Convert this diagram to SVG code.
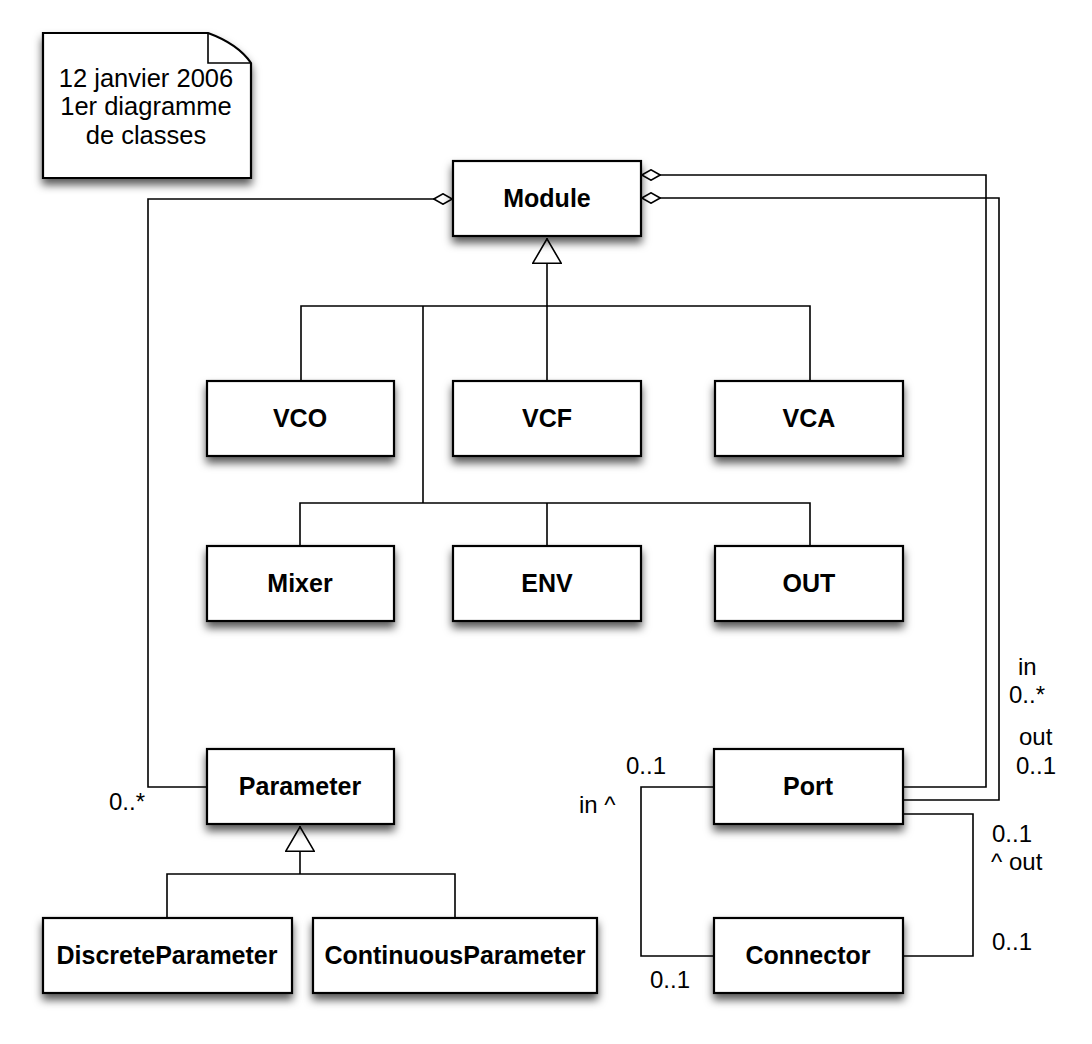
<svg xmlns="http://www.w3.org/2000/svg" width="1092" height="1044" viewBox="0 0 1092 1044">
<defs>
  <filter id="shadow" x="-20%" y="-20%" width="140%" height="160%">
    <feDropShadow dx="0" dy="6" stdDeviation="4" flood-color="#000" flood-opacity="0.65"/>
  </filter>
  <marker id="diamond" viewBox="0 0 20 12" refX="0" refY="6" markerWidth="20" markerHeight="12" markerUnits="userSpaceOnUse" orient="auto">
    <path d="M0.8,6 L10,0.8 L19.2,6 L10,11.2 Z" fill="#fff" stroke="#000" stroke-width="1.6"/>
  </marker>
  <marker id="tri" viewBox="0 0 26 30" refX="26" refY="15" markerWidth="26" markerHeight="30" markerUnits="userSpaceOnUse" orient="auto">
    <path d="M0.8,0.8 L25.2,15 L0.8,29.2 Z" fill="#fff" stroke="#000" stroke-width="1.6"/>
  </marker>
  <style>
    .box { fill: #fff; stroke: #000; stroke-width: 2.2; filter: url(#shadow); }
    .cls { font-family: "Liberation Sans", Arial, sans-serif; font-weight: bold; font-size: 25px; text-anchor: middle; fill: #000; }
    .lbl { font-family: "Liberation Sans", Arial, sans-serif; font-size: 24px; fill: #000; }
    .note { font-family: "Liberation Sans", Arial, sans-serif; font-size: 25.5px; fill: #000; text-anchor: middle; }
    .conn { fill: none; stroke: #000; stroke-width: 1.6; }
  </style>
</defs>
<rect width="1092" height="1044" fill="#fff"/>

<g id="connectors">
  <path class="conn" d="M453,199 H148 V787 H207" marker-start="url(#diamond)"/>
  <path class="conn" d="M641,175 H986 V787 H903" marker-start="url(#diamond)"/>
  <path class="conn" d="M641,198 H999 V800 H903" marker-start="url(#diamond)"/>
  <path class="conn" d="M903,814 H973 V956 H903"/>
  <path class="conn" d="M714,787 H641 V956 H714"/>
  <path class="conn" d="M547,306 V238" marker-end="url(#tri)"/>
  <path class="conn" d="M301,381 V306 H810 V381"/>
  <path class="conn" d="M547,306 V381"/>
  <path class="conn" d="M423,306 V503"/>
  <path class="conn" d="M300,546 V503 H810 V546"/>
  <path class="conn" d="M547,503 V546"/>
  <path class="conn" d="M300,874 V826" marker-end="url(#tri)"/>
  <path class="conn" d="M167,918 V874 H455 V918"/>

  <text class="lbl" x="109" y="810">0..*</text>
  <text class="lbl" x="1018" y="675">in</text>
  <text class="lbl" x="1009" y="703">0..*</text>
  <text class="lbl" x="1019" y="745">out</text>
  <text class="lbl" x="1016" y="774">0..1</text>
  <text class="lbl" x="626" y="774">0..1</text>
  <text class="lbl" x="579" y="813">in ^</text>
  <text class="lbl" x="992" y="842">0..1</text>
  <text class="lbl" x="991" y="870">^ out</text>
  <text class="lbl" x="992" y="950">0..1</text>
  <text class="lbl" x="650" y="988">0..1</text>
</g>

<g id="note">
  <path d="M43,33 H208 Q238,44 251,63 V178 H43 Z" fill="#fff" stroke="#000" stroke-width="2.2" filter="url(#shadow)"/>
  <path d="M208,33 V63 H251" fill="none" stroke="#000" stroke-width="1.6"/>
  <text class="note" x="146" y="87">12 janvier 2006</text>
  <text class="note" x="146" y="115">1er diagramme</text>
  <text class="note" x="146" y="144">de classes</text>
</g>

<g id="Module"><rect class="box" x="453" y="161" width="188" height="75"/><text class="cls" x="547" y="207">Module</text></g>
<g id="VCO"><rect class="box" x="207" y="381" width="187" height="75"/><text class="cls" x="300" y="427">VCO</text></g>
<g id="VCF"><rect class="box" x="453" y="381" width="188" height="75"/><text class="cls" x="547" y="427">VCF</text></g>
<g id="VCA"><rect class="box" x="715" y="381" width="188" height="75"/><text class="cls" x="809" y="427">VCA</text></g>
<g id="Mixer"><rect class="box" x="207" y="546" width="187" height="75"/><text class="cls" x="300" y="592">Mixer</text></g>
<g id="ENV"><rect class="box" x="453" y="546" width="188" height="75"/><text class="cls" x="547" y="592">ENV</text></g>
<g id="OUT"><rect class="box" x="715" y="546" width="188" height="75"/><text class="cls" x="809" y="592">OUT</text></g>
<g id="Parameter"><rect class="box" x="207" y="749" width="187" height="75"/><text class="cls" x="300" y="795">Parameter</text></g>
<g id="Port"><rect class="box" x="714" y="749" width="189" height="75"/><text class="cls" x="808" y="795">Port</text></g>
<g id="DiscreteParameter"><rect class="box" x="43" y="918" width="249" height="75"/><text class="cls" x="167" y="964">DiscreteParameter</text></g>
<g id="ContinuousParameter"><rect class="box" x="313" y="918" width="284" height="75"/><text class="cls" x="455" y="964">ContinuousParameter</text></g>
<g id="Connector"><rect class="box" x="714" y="918" width="189" height="75"/><text class="cls" x="808" y="964">Connector</text></g>
</svg>
